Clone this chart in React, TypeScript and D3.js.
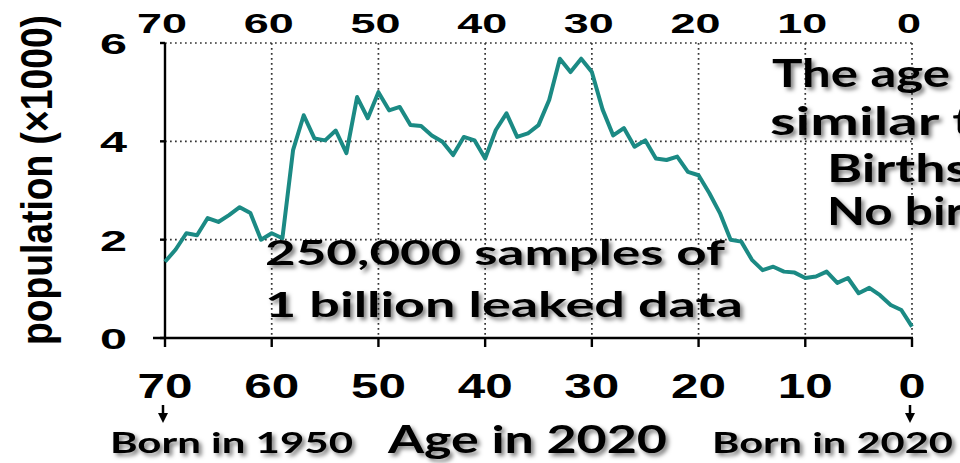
import { useEffect, useRef } from 'react';
import * as d3 from 'd3';

// age in 2020 (x) and population in thousands (y)
const ages = [
  70, 69, 68, 67, 66, 65, 64, 63, 62, 61,
  60, 59, 58, 57, 56, 55, 54, 53, 52, 51,
  50, 49, 48, 47, 46, 45, 44, 43, 42, 41,
  40, 39, 38, 37, 36, 35, 34, 33, 32, 31,
  30, 29, 28, 27, 26, 25, 24, 23, 22, 21,
  20, 19, 18, 17, 16, 15, 14, 13, 12, 11,
  10, 9, 8, 7, 6, 5, 4, 3, 2, 1, 0,
];
const population = [
  1.55, 1.8, 2.13, 2.09, 2.44, 2.36, 2.5, 2.66, 2.54, 2.0,
  2.13, 2.03, 3.82, 4.53, 4.06, 4.02, 4.22, 3.76, 4.9, 4.47,
  5.0, 4.63, 4.7, 4.33, 4.31, 4.12, 3.99, 3.72, 4.09, 4.02,
  3.65, 4.23, 4.57, 4.09, 4.16, 4.33, 4.84, 5.68, 5.41, 5.68,
  5.41, 4.65, 4.12, 4.27, 3.89, 4.02, 3.65, 3.62, 3.69, 3.38,
  3.31, 2.95, 2.54, 2.0, 1.96, 1.59, 1.38, 1.45, 1.35, 1.33,
  1.22, 1.25, 1.35, 1.12, 1.22, 0.91, 1.02, 0.87, 0.67, 0.57, 0.23,
];
const xTicks = [70, 60, 50, 40, 30, 20, 10, 0];
const yTicks = [0, 2, 4, 6];

const AgeChart = () => {
  const svgRef = useRef<SVGSVGElement>(null);

  useEffect(() => {
    if (!svgRef.current) return;
    const svg = d3.select(svgRef.current);
    svg.selectAll('*').remove();

    const width = 960;
    const height = 463;
    const x = d3.scaleLinear().domain([70, 0]).range([165, 912]);
    const y = d3.scaleLinear().domain([0, 6]).range([338, 43]);

    svg.attr('width', width).attr('height', height);

    const defs = svg.append('defs');
    const f = defs.append('filter').attr('id', 'shadow')
      .attr('x', '-10%').attr('y', '-30%').attr('width', '130%').attr('height', '180%');
    f.append('feDropShadow')
      .attr('dx', 3).attr('dy', 3).attr('stdDeviation', 2.2)
      .attr('flood-color', '#000').attr('flood-opacity', 0.5);

    svg.append('rect').attr('width', width).attr('height', height).attr('fill', '#fff');

    const arial = '"Liberation Sans", Arial, sans-serif';
    const soft = 'Lato, "Open Sans", sans-serif';

    // dotted grid
    const grid = svg.append('g')
      .attr('stroke', '#333').attr('stroke-width', 1.7)
      .attr('stroke-dasharray', '1.7,3.3');
    yTicks.filter(t => t > 0).forEach(t => {
      grid.append('line')
        .attr('x1', x(70)).attr('x2', x(0)).attr('y1', y(t)).attr('y2', y(t));
    });
    xTicks.filter(t => t < 70).forEach(t => {
      grid.append('line')
        .attr('x1', x(t)).attr('x2', x(t)).attr('y1', y(6)).attr('y2', y(0));
    });

    // axes
    const axis = svg.append('g').attr('stroke', '#000').attr('stroke-width', 2.4);
    axis.append('line').attr('x1', x(70)).attr('x2', x(70)).attr('y1', y(6)).attr('y2', y(0));
    axis.append('line').attr('x1', x(70) - 12).attr('x2', x(0) + 1).attr('y1', y(0)).attr('y2', y(0));
    yTicks.forEach(t => {
      axis.append('line').attr('x1', x(70) - 5).attr('x2', x(70)).attr('y1', y(t)).attr('y2', y(t));
    });
    xTicks.forEach(t => {
      axis.append('line').attr('x1', x(t)).attr('x2', x(t)).attr('y1', y(0)).attr('y2', y(0) + 9);
    });

    // tick labels (the source picture is stretched sideways, so widths are forced)
    svg.append('g').selectAll('text').data(yTicks).enter().append('text')
      .attr('x', 100).attr('y', d => y(d) + 11)
      .attr('textLength', 27).attr('lengthAdjust', 'spacingAndGlyphs')
      .attr('font-family', arial).attr('font-weight', 'bold').attr('font-size', 30)
      .text(d => d);

    svg.append('g').selectAll('text').data(xTicks).enter().append('text')
      .attr('x', d => x(d) - 3 - (d === 0 ? 12 : 25)).attr('y', 33)
      .attr('textLength', d => (d === 0 ? 24 : 50)).attr('lengthAdjust', 'spacingAndGlyphs')
      .attr('font-family', arial).attr('font-weight', 'bold').attr('font-size', 28)
      .text(d => d);

    svg.append('g').selectAll('text').data(xTicks).enter().append('text')
      .attr('x', d => x(d) - (d === 0 ? 13.5 : 27.5)).attr('y', 398)
      .attr('textLength', d => (d === 0 ? 27 : 55)).attr('lengthAdjust', 'spacingAndGlyphs')
      .attr('font-family', arial).attr('font-weight', 'bold').attr('font-size', 35)
      .text(d => d);

    // y axis title
    svg.append('text')
      .attr('transform', 'translate(52,180) scale(1.45,1) rotate(-90)')
      .attr('text-anchor', 'middle')
      .attr('font-family', arial).attr('font-weight', 'bold').attr('font-size', 31)
      .attr('textLength', 330).attr('lengthAdjust', 'spacingAndGlyphs')
      .text('population (×1000)');

    // the line
    const line = d3.line<number>()
      .x((_, i) => x(ages[i]))
      .y(d => y(d));
    svg.append('path')
      .datum(population)
      .attr('d', line)
      .attr('fill', 'none')
      .attr('stroke', '#1b8a84')
      .attr('stroke-width', 4)
      .attr('stroke-linejoin', 'round');

    // annotations
    const notes: [string, number, number, number, number][] = [
      ['250,000 samples of', 265, 265, 460, 35],
      ['1 billion leaked data', 265, 317, 478, 35],
      ['The age', 772, 87, 178, 39],
      ['similar to', 770, 135, 237, 39],
      ['Births', 827, 182, 142, 39],
      ['No births', 827, 225, 205, 39],
      ['Born in 1950', 110, 453, 243, 29],
      ['Age in 2020', 388, 453, 279, 38],
      ['Born in 2020', 712, 453, 241, 29],
    ];
    svg.append('g').attr('filter', 'url(#shadow)')
      .selectAll('text').data(notes).enter().append('text')
      .attr('x', d => d[1]).attr('y', d => d[2])
      .attr('textLength', d => d[3]).attr('lengthAdjust', 'spacingAndGlyphs')
      .attr('font-family', soft).attr('font-weight', 'bold')
      .attr('font-size', d => d[4])
      .attr('fill', '#000')
      .text(d => d[0]);

    // arrows under 70 and 0
    [70, 0].forEach(t => {
      const cx = x(t) - 2;
      svg.append('line')
        .attr('x1', cx).attr('x2', cx).attr('y1', 405).attr('y2', 415)
        .attr('stroke', '#000').attr('stroke-width', 2.5);
      svg.append('path')
        .attr('d', `M${cx - 5},413 L${cx + 5},413 L${cx},423 Z`)
        .attr('fill', '#000');
    });
  }, []);

  return <svg ref={svgRef} style={{ display: 'block' }} />;
};

export default function App() {
  return (
    <div style={{ position: 'absolute', left: 0, top: 0, width: 960, height: 463, overflow: 'hidden' }}>
      <AgeChart />
    </div>
  );
}
